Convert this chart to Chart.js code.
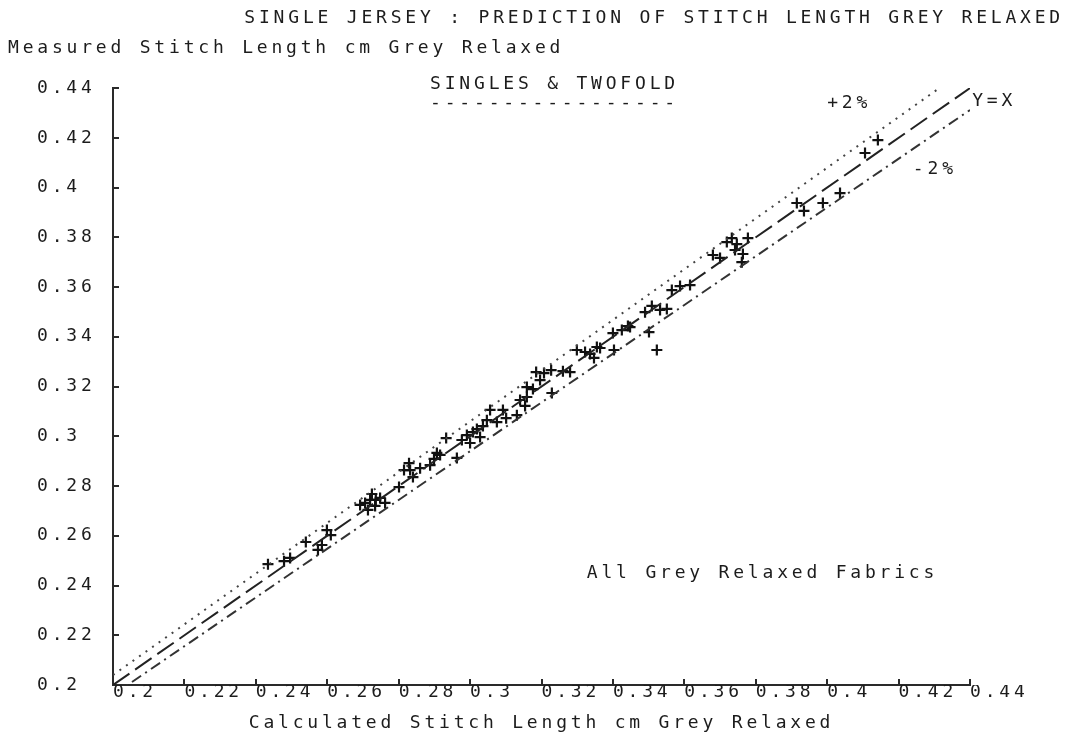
<!DOCTYPE html>
<html>
<head>
<meta charset="utf-8">
<script src="https://cdn.jsdelivr.net/npm/chart.js@4.4.1/dist/chart.umd.min.js"></script>
<style>
	html, body { margin: 0; padding: 0; background: #fff; }
</style>
</head>
<body>
<canvas id="chart" width="1070" height="738"></canvas>
<script>
'use strict';

// Calculated (x) vs measured (y) stitch length, cm, grey relaxed
var calcLength = [
	0.2434, 0.2479, 0.2496, 0.2540, 0.2585, 0.2599, 0.2610, 0.2574,
	0.2706, 0.2720, 0.2734, 0.2748, 0.2714, 0.2762, 0.2725, 0.2692, 0.2736,
	0.2801, 0.2815, 0.2840, 0.2829, 0.2860, 0.2888, 0.2899, 0.2916, 0.2832, 0.2907,
	0.2933, 0.2963, 0.2977, 0.3000, 0.3008, 0.3019, 0.3036, 0.3056, 0.3075,
	0.3101, 0.3047, 0.3028, 0.2991, 0.3092,
	0.3131, 0.3140, 0.3159, 0.3176, 0.3154, 0.3196, 0.3185, 0.3229, 0.3159,
	0.3207, 0.3227, 0.3260, 0.3280,
	0.3299, 0.3322, 0.3336, 0.3355, 0.3347, 0.3364, 0.3403, 0.3400, 0.3442,
	0.3425, 0.3448, 0.3501, 0.3523, 0.3509, 0.3532, 0.3551, 0.3490,
	0.3565, 0.3588, 0.3616,
	0.3680, 0.3700, 0.3719, 0.3733, 0.3747, 0.3778, 0.3764, 0.3761, 0.3742,
	0.3915, 0.3935, 0.3988, 0.4036, 0.4106, 0.4142
];
var measLength = [
	0.2486, 0.2498, 0.2511, 0.2575, 0.2563, 0.2623, 0.2603, 0.2543,
	0.2732, 0.2744, 0.2720, 0.2752, 0.2704, 0.2732, 0.2768, 0.2724, 0.2744,
	0.2796, 0.2864, 0.2836, 0.2892, 0.2872, 0.2884, 0.2909, 0.2925, 0.2864, 0.2933,
	0.2993, 0.2913, 0.2985, 0.2973, 0.3017, 0.3029, 0.3041, 0.3106, 0.3057,
	0.3073, 0.3065, 0.2997, 0.3005, 0.3106,
	0.3085, 0.3146, 0.3158, 0.3190, 0.3122, 0.3226, 0.3258, 0.3174, 0.3198,
	0.3254, 0.3266, 0.3262, 0.3258,
	0.3347, 0.3339, 0.3331, 0.3359, 0.3315, 0.3355, 0.3347, 0.3415, 0.3443,
	0.3427, 0.3439, 0.3419, 0.3347, 0.3524, 0.3508, 0.3512, 0.3499,
	0.3588, 0.3604, 0.3608,
	0.3729, 0.3717, 0.3781, 0.3797, 0.3773, 0.3797, 0.3733, 0.3700, 0.3749,
	0.3938, 0.3906, 0.3938, 0.3978, 0.4139, 0.4191
];

// reference lines: y = x, +2% and -2%
var equalLine = [[0.2, 0.2], [0.44, 0.44]];
var plusLine = [[0.2, 0.204], [0.4314, 0.44]];
var minusLine = [[0.2, 0.196], [0.44, 0.4312]];

var tickValues = [0.2, 0.22, 0.24, 0.26, 0.28, 0.3, 0.32, 0.34, 0.36, 0.38, 0.4, 0.42, 0.44];
var tickLabels = ['0.2', '0.22', '0.24', '0.26', '0.28', '0.3', '0.32', '0.34',
	'0.36', '0.38', '0.4', '0.42', '0.44'];

var titleText = 'SINGLE JERSEY : PREDICTION OF STITCH LENGTH GREY RELAXED';
var xTitle = 'Calculated Stitch Length cm Grey Relaxed';
var yTitle = 'Measured Stitch Length cm Grey Relaxed';

var FONT = '"DejaVu Sans Mono", monospace',
	SIZE = 18,
	SPACING = '3.8px',
	INK = '#1c1c1c',
	AXIS = '#2a2a2a';

function toPoints(xs, ys) {
	return xs.map(function (x, i) {
		return { x: x, y: ys[i] };
	});
}

function linePoints(pairs) {
	return pairs.map(function (p) {
		return { x: p[0], y: p[1] };
	});
}

// the plotter lettering is widely spaced, so every text gets letterSpacing
var plotterText = {
	id: 'plotterText',
	beforeLayout: function (chart) {
		chart.ctx.letterSpacing = SPACING;
	},
	beforeDraw: function (chart) {
		chart.ctx.letterSpacing = SPACING;
	},
	afterDraw: function (chart, args, opts) {
		var ctx = chart.ctx,
			xs = chart.scales.x,
			ys = chart.scales.y;
		ctx.save();
		ctx.letterSpacing = SPACING;
		ctx.font = SIZE + 'px ' + FONT;
		ctx.fillStyle = INK;
		ctx.textAlign = 'left';
		ctx.textBaseline = 'middle';
		// y axis title sits flat above the axis
		ctx.fillText(yTitle, 8, 48);
		opts.notes.forEach(function (n) {
			ctx.fillText(n.text, xs.getPixelForValue(n.x), ys.getPixelForValue(n.y));
		});
		ctx.restore();
	}
};

function axisTicks(scale) {
	scale.ticks = tickValues.map(function (v) {
		return { value: v };
	});
}

function tickLabel(value, index) {
	return tickLabels[index];
}

new Chart(document.getElementById('chart'), {
	type: 'scatter',
	data: {
		datasets: [{
			label: '+2%',
			data: linePoints(plusLine),
			showLine: true,
			borderColor: '#444',
			borderWidth: 2,
			borderDash: [2, 6],
			pointRadius: 0
		}, {
			label: 'Y=X',
			data: linePoints(equalLine),
			showLine: true,
			borderColor: '#222',
			borderWidth: 2,
			borderDash: [20, 7],
			pointRadius: 0
		}, {
			label: '-2%',
			data: linePoints(minusLine),
			showLine: true,
			borderColor: '#333',
			borderWidth: 2,
			borderDash: [11, 5, 2, 5],
			pointRadius: 0
		}, {
			label: 'All Grey Relaxed Fabrics',
			data: toPoints(calcLength, measLength),
			pointStyle: 'cross',
			pointRadius: 5.5,
			borderWidth: 2.2,
			borderColor: '#111',
			backgroundColor: '#111'
		}]
	},
	options: {
		responsive: false,
		animation: false,
		events: [],
		layout: {
			padding: { top: 0, left: 37, right: 6, bottom: 0 }
		},
		plugins: {
			legend: { display: false },
			tooltip: { enabled: false },
			title: {
				display: true,
				text: titleText,
				align: 'end',
				color: INK,
				font: { family: FONT, size: SIZE, weight: 'normal' },
				padding: { top: 8, bottom: 58.5 }
			},
			plotterText: {
				notes: [
					{ text: 'SINGLES & TWOFOLD', x: 0.2888, y: 0.4416 },
					{ text: '-----------------', x: 0.2888, y: 0.4340 },
					{ text: '+2%', x: 0.4, y: 0.4337 },
					{ text: 'Y=X', x: 0.4406, y: 0.4348 },
					{ text: '-2%', x: 0.424, y: 0.4074 },
					{ text: 'All Grey Relaxed Fabrics', x: 0.3327, y: 0.245 }
				]
			}
		},
		scales: {
			x: {
				type: 'linear',
				position: 'bottom',
				min: 0.2,
				max: 0.44,
				afterBuildTicks: axisTicks,
				afterFit: function (scale) {
					scale.height = 53;
				},
				border: { color: AXIS, width: 2 },
				grid: { drawOnChartArea: false, tickLength: -6, color: AXIS, lineWidth: 2 },
				ticks: {
					align: 'start',
					padding: 3,
					maxRotation: 0,
					autoSkip: false,
					color: INK,
					font: { family: FONT, size: SIZE },
					callback: tickLabel
				},
				title: {
					display: true,
					text: xTitle,
					color: INK,
					font: { family: FONT, size: SIZE },
					padding: { top: 0, bottom: 4 }
				}
			},
			y: {
				type: 'linear',
				position: 'left',
				min: 0.2,
				max: 0.44,
				afterBuildTicks: axisTicks,
				afterFit: function (scale) {
					scale.width = 76;
				},
				border: { color: AXIS, width: 2 },
				grid: { drawOnChartArea: false, tickLength: -6, color: AXIS, lineWidth: 2 },
				ticks: {
					crossAlign: 'far',
					padding: 0,
					autoSkip: false,
					color: INK,
					font: { family: FONT, size: SIZE },
					callback: tickLabel
				}
			},
			// empty right box: keeps the plot clear of the Y=X label
			pad: {
				type: 'linear',
				position: 'right',
				display: true,
				grid: { display: false },
				border: { display: false },
				ticks: { display: false },
				afterFit: function (scale) {
					scale.width = 94;
				}
			}
		}
	},
	plugins: [plotterText]
});
</script>
</body>
</html>
